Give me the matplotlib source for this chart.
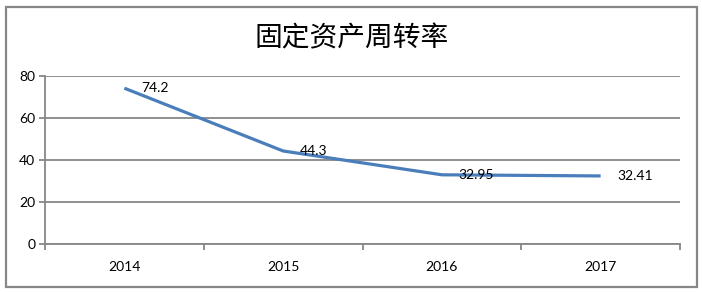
import matplotlib.pyplot as plt
from matplotlib.patches import Rectangle
from matplotlib.ticker import FixedLocator

years = ["2014", "2015", "2016", "2017"]
turnover = [74.2, 44.3, 32.95, 32.41]
labels = ["74.2", "44.3", "32.95", "32.41"]

plt.rcParams['font.family'] = ['Lato', 'DejaVu Sans']

grey = "#878787"
blue = "#4A7EBB"

fig = plt.figure(figsize=(7.02, 2.92), dpi=100)
W, H = 702, 292

# outer frame of the chart
fig.patches.append(Rectangle((6 / W, 1 - 287 / H), 691 / W, 280 / H,
                             transform=fig.transFigure, fill=False,
                             edgecolor=grey, linewidth=1.6))

ax = fig.add_axes([45 / W, 1 - 244 / H, 635 / W, 168 / H])

x = list(range(len(years)))
ax.plot(x, turnover, color=blue, linewidth=2.3, solid_capstyle="butt", zorder=3)

for xi, v, t in zip(x, turnover, labels):
    ax.annotate(t, (xi, v), xytext=(12, 0), textcoords="offset points",
                ha="left", va="center", fontsize=10, color="black", zorder=4)

ax.set_xlim(-0.5, 3.5)
ax.set_ylim(0, 80)
ax.set_yticks([0, 20, 40, 60, 80])
ax.set_xticks(x)
ax.set_xticklabels(years)
ax.xaxis.set_minor_locator(FixedLocator([-0.5, 0.5, 1.5, 2.5, 3.5]))

ax.grid(axis="y", color=grey, linewidth=1.3)
ax.set_axisbelow(True)
for s in ["top", "right"]:
    ax.spines[s].set_visible(False)
for s in ["left", "bottom"]:
    ax.spines[s].set_color(grey)
    ax.spines[s].set_linewidth(1.3)

ax.tick_params(axis="y", length=4, width=1.3, color=grey, labelsize=10, pad=3)
ax.tick_params(axis="x", which="major", length=0, labelsize=10, pad=12)
ax.tick_params(axis="x", which="minor", length=4, width=1.3, color=grey)

fig.text(352 / W, 1 - 38 / H, "固定资产周转率", ha="center", va="center",
         fontsize=20, fontweight="medium",
         family=["Noto Sans CJK SC", "DejaVu Sans"])

fig.savefig("out.png", dpi=100)
